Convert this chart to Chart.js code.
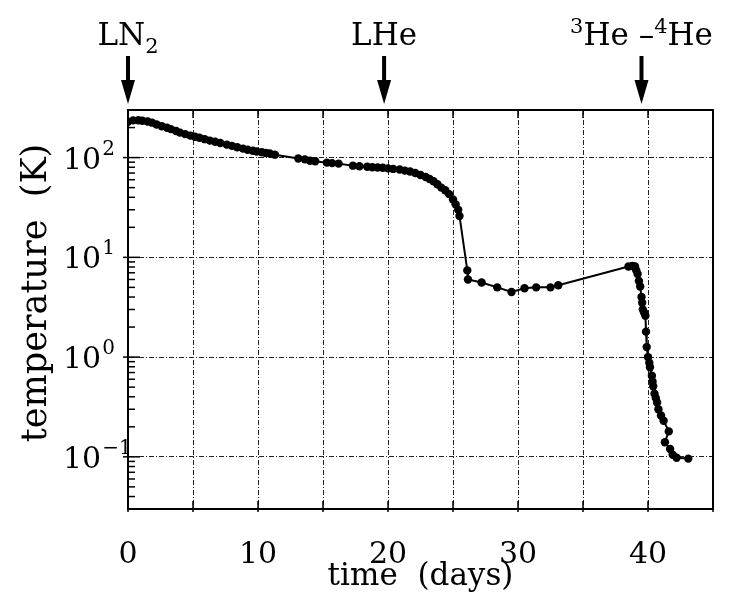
<!DOCTYPE html>
<html>
<head>
<meta charset="utf-8">
<script src="https://cdn.jsdelivr.net/npm/chart.js@4.4.1/dist/chart.umd.min.js"></script>
<style>
  html, body { margin: 0; padding: 0; background: #fff; }
  #wrap { width: 730px; height: 592px; }
</style>
</head>
<body>
<div id="wrap"><canvas id="c" width="730" height="592"></canvas></div>
<script>
// Cooldown log: elapsed time (days) and measured temperature (K)
const days = [
  0.0, 0.4, 0.8, 1.1, 1.5, 1.85, 2.2, 2.6, 3.0, 3.3, 3.7, 4.0, 4.4, 4.8, 5.15,
  5.5, 5.9, 6.3, 6.7, 7.1, 7.6, 8.0, 8.4, 8.85, 9.2, 9.6, 9.9, 10.3, 10.6, 10.9,
  11.3, 13.1, 13.6, 14.0, 14.4, 15.3, 15.7, 16.2, 17.3, 17.8, 18.4, 18.8, 19.2,
  19.6, 20.0, 20.4, 20.9, 21.3, 21.7, 22.1, 22.5, 22.9, 23.2, 23.5, 23.8, 24.1,
  24.4, 24.7, 25.0, 25.2, 25.4, 25.5,
  26.1, 26.15, 27.2, 28.4, 29.5, 30.5, 31.4, 32.5, 33.1,
  38.5, 38.8, 39.0, 39.1, 39.2, 39.3, 39.4, 39.5, 39.55, 39.6, 39.7, 39.8, 39.85,
  39.9, 40.0, 40.1, 40.15, 40.3, 40.35, 40.4, 40.5, 40.6, 40.7, 40.8, 41.0, 41.2,
  41.6, 41.3, 41.7, 41.9, 42.2, 43.1
];
const temps = [
  229, 236, 237, 234, 230, 224, 215, 206, 199, 193, 185, 178, 172, 166, 162,
  158, 153, 148, 144, 140, 135, 131, 127, 123, 120, 117, 115, 113, 111, 110,
  107, 98, 96, 93, 92, 89, 88, 87, 83, 82, 81, 80, 79.5,
  79, 78, 77, 76, 74, 72.5, 70, 67, 64, 61, 58, 54, 50,
  47, 43, 38, 34, 30, 26,
  7.4, 6.0, 5.6, 5.0, 4.5, 4.9, 5.0, 5.0, 5.25,
  8.1, 8.2, 8.1, 7.4, 6.8, 5.8, 5.1, 4.0, 3.5, 3.0, 2.8, 2.6, 1.8,
  1.26, 1.0, 0.88, 0.79, 0.65, 0.57, 0.51, 0.43, 0.39, 0.35, 0.30, 0.26, 0.23,
  0.18, 0.14, 0.12, 0.105, 0.098, 0.096
];

// Axis ranges, tick values and titles
const dayRange = [0, 45];
const dayGridStep = 5;
const dayLabels = [0, 10, 20, 30, 40];
const tempRange = [0.03, 300];
const tempDecades = [0.1, 1, 10, 100];
const xTitle = 'time  (days)';
const yTitle = 'temperature  (K)';

// Cryogen transfer markers above the plot
const eventDays = [0, 19.7, 39.5];
const eventLabels = [
  [['LN', ''], ['2', 'sub']],
  [['LHe', '']],
  [['3', 'sup'], ['He \u2013', ''], ['4', 'sup'], ['He', '']]
];

const FONT = "'DejaVu Serif', 'Liberation Serif', serif";
const INK = '#000';

function seg(ctx, x1, y1, x2, y2) {
  ctx.beginPath(); ctx.moveTo(x1, y1); ctx.lineTo(x2, y2); ctx.stroke();
}

const frameAndTicks = {
  id: 'frameAndTicks',
  beforeDatasetsDraw(chart) {
    const { ctx, chartArea: a, scales: { x, y } } = chart;
    ctx.save();
    ctx.setLineDash([]);
    ctx.strokeStyle = INK;
    ctx.lineWidth = 2;
    ctx.strokeRect(a.left, a.top, a.right - a.left, a.bottom - a.top);

    // ticks on top and bottom edges
    ctx.lineWidth = 1.5;
    for (let d = dayRange[0]; d <= dayRange[1]; d += dayGridStep) {
      const px = x.getPixelForValue(d);
      seg(ctx, px, a.bottom + 3, px, a.bottom - 8);
      seg(ctx, px, a.top, px, a.top + 8);
    }
    // logarithmic ticks along the left edge
    for (let k = -2; k <= 2; k++) {
      for (let m = 1; m <= 9; m++) {
        const v = m * Math.pow(10, k);
        if (v < tempRange[0] || v > tempRange[1]) continue;
        const py = y.getPixelForValue(v);
        if (m === 1) seg(ctx, a.left - 5, py, a.left + 12, py);
        else seg(ctx, a.left, py, a.left + 7, py);
      }
    }
    ctx.restore();
  },
  afterDraw(chart) {
    const { ctx, chartArea: a, scales: { x, y } } = chart;
    ctx.save();
    ctx.fillStyle = INK;
    ctx.textAlign = 'left';
    ctx.textBaseline = 'alphabetic';

    // decade labels, 10 with a raised exponent
    tempDecades.forEach(v => {
      const e = Math.round(Math.log10(v));
      const py = y.getPixelForValue(v);
      ctx.font = `30px ${FONT}`;
      ctx.fillText('10', 63, py + 11);
      const w = ctx.measureText('10').width;
      ctx.font = `20px ${FONT}`;
      ctx.fillText(String(e).replace('-', '\u2212'), 63 + w + 1, py - 3);
    });

    // vertical axis title
    ctx.save();
    ctx.translate(37, 293);
    ctx.rotate(-Math.PI / 2);
    ctx.textAlign = 'center';
    ctx.textBaseline = 'middle';
    ctx.font = `35px ${FONT}`;
    ctx.fillText(yTitle, 0, 0);
    ctx.restore();

    // event labels and arrows
    eventDays.forEach((d, i) => {
      const cx = x.getPixelForValue(d);
      const parts = eventLabels[i];
      const fontFor = kind => (kind ? '21px ' : '31px ') + FONT;
      const widths = parts.map(([t, kind]) => {
        ctx.font = fontFor(kind);
        return ctx.measureText(t).width;
      });
      const total = widths.reduce((s, w) => s + w, 0);
      let px = cx - total / 2;
      parts.forEach(([t, kind], j) => {
        ctx.font = fontFor(kind);
        const by = kind === 'sub' ? 53 : kind === 'sup' ? 33 : 45;
        ctx.fillText(t, px, by);
        px += widths[j];
      });
      ctx.strokeStyle = INK;
      ctx.lineWidth = 4;
      seg(ctx, cx, 56, cx, 84);
      ctx.beginPath();
      ctx.moveTo(cx - 7, 80);
      ctx.lineTo(cx + 7, 80);
      ctx.lineTo(cx, 104);
      ctx.closePath();
      ctx.fill();
    });
    ctx.restore();
  }
};

const points = days.map((d, i) => ({ x: d, y: temps[i] }));

new Chart(document.getElementById('c'), {
  type: 'line',
  data: {
    datasets: [{
      data: points,
      borderColor: INK,
      borderWidth: 2,
      backgroundColor: INK,
      pointRadius: 4.2,
      pointBorderWidth: 0,
      pointBackgroundColor: INK,
      tension: 0
    }]
  },
  options: {
    responsive: false,
    animation: false,
    events: [],
    layout: { padding: { top: 110, right: 17, bottom: 0, left: 0 } },
    plugins: { legend: { display: false }, tooltip: { enabled: false } },
    scales: {
      x: {
        type: 'linear',
        min: dayRange[0],
        max: dayRange[1],
        afterBuildTicks(scale) {
          const t = [];
          for (let d = dayRange[0]; d <= dayRange[1]; d += dayGridStep) t.push({ value: d });
          scale.ticks = t;
        },
        afterFit(scale) {
          scale.height = 83;
          scale.paddingLeft = 0;
          scale.paddingRight = 0;
        },
        grid: { color: '#222', lineWidth: 1, drawTicks: false },
        border: { display: true, color: INK, width: 2, dash: [5, 2, 1, 2] },
        ticks: {
          autoSkip: false,
          maxRotation: 0,
          padding: 28,
          color: INK,
          font: { family: FONT, size: 30 },
          callback: v => (dayLabels.includes(v) ? String(v) : '')
        },
        title: {
          display: true,
          text: xTitle,
          color: INK,
          font: { family: FONT, size: 31, lineHeight: 1.0 },
          padding: { top: 0, bottom: 0 }
        }
      },
      y: {
        type: 'logarithmic',
        min: tempRange[0],
        max: tempRange[1],
        afterBuildTicks(scale) { scale.ticks = tempDecades.map(v => ({ value: v })); },
        afterFit(scale) {
          scale.width = 128;
          scale.paddingTop = 0;
          scale.paddingBottom = 0;
        },
        grid: { color: '#222', lineWidth: 1, drawTicks: false },
        border: { display: true, color: INK, width: 2, dash: [5, 2, 1, 2] },
        ticks: { display: false },
        title: { display: false }
      }
    }
  },
  plugins: [frameAndTicks]
});
</script>
</body>
</html>
